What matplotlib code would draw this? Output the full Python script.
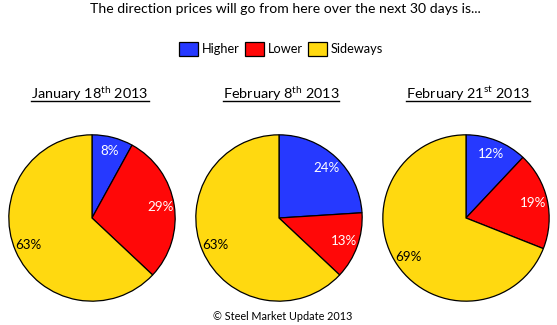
import numpy as np
import matplotlib
matplotlib.use('Agg')
import matplotlib.pyplot as plt

plt.rcParams['font.family'] = ['Lato', 'DejaVu Sans']
plt.rcParams['mathtext.fontset'] = 'custom'
plt.rcParams['mathtext.rm'] = 'Lato'

# Survey data: share of respondents per expected price direction
directions = ['Higher', 'Lower', 'Sideways']
dates = ['January 18$^{\\mathrm{th}}$ 2013',
         'February 8$^{\\mathrm{th}}$ 2013',
         'February 21$^{\\mathrm{st}}$ 2013']
jan18 = [8, 29, 63]
feb08 = [24, 13, 63]
feb21 = [12, 19, 69]
surveys = [jan18, feb08, feb21]

colors = ['#2639FF', '#FF0808', '#FFD910']
label_colors = ['white', 'white', 'black']

W, H = 557, 325
fig = plt.figure(figsize=(W / 100, H / 100), dpi=100)
fig.patch.set_facecolor('white')

def px(x, y):
    # pixel position (from top-left) -> figure fraction
    return x / W, 1 - y / H

# pie centres and radius in pixels
centers = [(92, 218), (279, 218), (466, 218)]
radius = 84
title_x = [90, 281, 468]

wedges_first = None
for vals, (cx, cy), date, tx in zip(surveys, centers, dates, title_x):
    x0, y0 = px(cx - radius, cy + radius)
    ax = fig.add_axes([x0, y0, 2 * radius / W, 2 * radius / H])
    wedges, texts, autotexts = ax.pie(
        vals, colors=colors, startangle=90, counterclock=False,
        autopct='%d%%', pctdistance=0.83,
        wedgeprops=dict(edgecolor='black', linewidth=0.9),
        textprops=dict(fontsize=9.6))
    for at, c in zip(autotexts, label_colors):
        at.set_color(c)
        at.set_rotation(0)
    ax.set_xlim(-1.01, 1.01)
    ax.set_ylim(-1.01, 1.01)
    if wedges_first is None:
        wedges_first = wedges

    # underlined date heading
    t = fig.text(*px(tx, 94), date, ha='center', va='center', fontsize=10.4)
    fig.canvas.draw()
    bb = t.get_window_extent(fig.canvas.get_renderer())
    fig.add_artist(plt.Line2D([bb.x0 / W, bb.x1 / W], [1 - 100.5 / H] * 2,
                              color='black', linewidth=1.0))

fig.text(*px(285, 9), 'The direction prices will go from here over the next 30 days is...',
         ha='center', va='center', fontsize=10.1)

fig.legend(wedges_first, directions, loc='center', bbox_to_anchor=px(281, 49),
           ncol=3, frameon=False, fontsize=9.2, handlelength=1.5,
           handleheight=1.2, handletextpad=0.25, columnspacing=0.45)

fig.text(*px(283, 316), '\u00a9 Steel Market Update 2013', ha='center', va='center',
         fontsize=7.8)

fig.savefig('out.png', dpi=100, facecolor='white')
